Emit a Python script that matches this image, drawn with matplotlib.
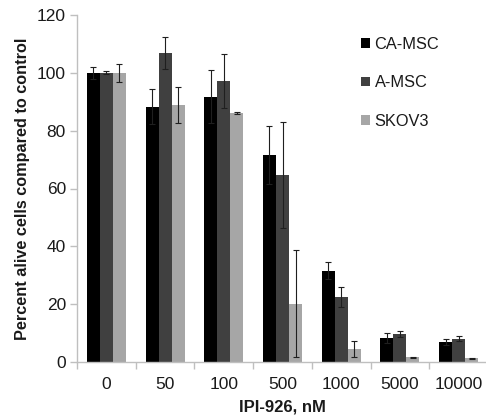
import matplotlib.pyplot as plt
import numpy as np

plt.rcParams['font.family'] = ['Liberation Sans', 'DejaVu Sans']

# dosis de IPI-926 (nM)
dosis = ['0', '50', '100', '500', '1000', '5000', '10000']
series = ['CA-MSC', 'A-MSC', 'SKOV3']
ca_msc = [100, 88.3, 91.8, 71.6, 31.6, 8.3, 6.9]
a_msc = [100, 106.9, 97.3, 64.6, 22.4, 9.8, 8.1]
skov3 = [100, 88.9, 86.1, 20.1, 4.5, 1.6, 1.3]
err_ca = [2.0, 6.0, 9.3, 10.0, 3.0, 1.6, 1.0]
err_a = [0.5, 5.5, 9.3, 18.3, 3.5, 1.0, 0.9]
err_skov = [3.0, 6.3, 0.3, 18.5, 2.7, 0.2, 0.1]

colores = ['#000000', '#404040', '#a6a6a6']
texto = '#1a1a1a'
gris = '#bfbfbf'

figura = plt.figure(figsize=(4.86, 4.18), dpi=100)
ax = figura.add_axes([77/486, 1-362/418, 411/486, 347/418])

x = np.arange(len(dosis))
ancho = 0.222
valores = [ca_msc, a_msc, skov3]
errores = [err_ca, err_a, err_skov]
handles = []
for i in range(3):
    b = ax.bar(x + (i-1)*ancho, valores[i], ancho, color=colores[i],
               yerr=errores[i], error_kw=dict(ecolor='#1f1f1f', elinewidth=0.8,
                                              capsize=2.0, capthick=0.8),
               label=series[i], zorder=2)
    handles.append(b)

ax.set_xlim(-0.5, 6.5)
ax.set_ylim(0, 120)
ax.set_yticks(range(0, 121, 20))
ax.set_xticks(x)
ax.set_xticklabels(dosis)
ax.set_xticks(np.arange(-0.5, 6.6, 1), minor=True)
ax.tick_params(axis='x', which='major', length=0, pad=11, labelsize=12.5, labelcolor=texto)
ax.tick_params(axis='x', which='minor', length=5, color=gris, width=1)
ax.tick_params(axis='y', length=5, color=gris, width=1, labelsize=12.5, labelcolor=texto, pad=3)

for lado in ['top', 'right']:
    ax.spines[lado].set_visible(False)
for lado in ['left', 'bottom']:
    ax.spines[lado].set_color(gris)
    ax.spines[lado].set_linewidth(1)

ax.set_xlabel('IPI-926, nM', fontsize=12, fontweight='bold', color=texto, labelpad=5)
ax.set_ylabel('Percent alive cells compared to control', fontsize=11.7, fontweight='bold',
              color=texto, labelpad=5)

leg = ax.legend(handles=handles, loc='upper left', bbox_to_anchor=(354/486, 1-30/418),
                bbox_transform=figura.transFigure, frameon=False, fontsize=11.8,
                handlelength=0.55, handleheight=0.55, handletextpad=0.3,
                labelspacing=1.45, borderaxespad=0)
for t in leg.get_texts():
    t.set_color(texto)
for h in leg.legend_handles:
    h.set_edgecolor('none')

plt.savefig('out.png', dpi=100)
plt.close()
